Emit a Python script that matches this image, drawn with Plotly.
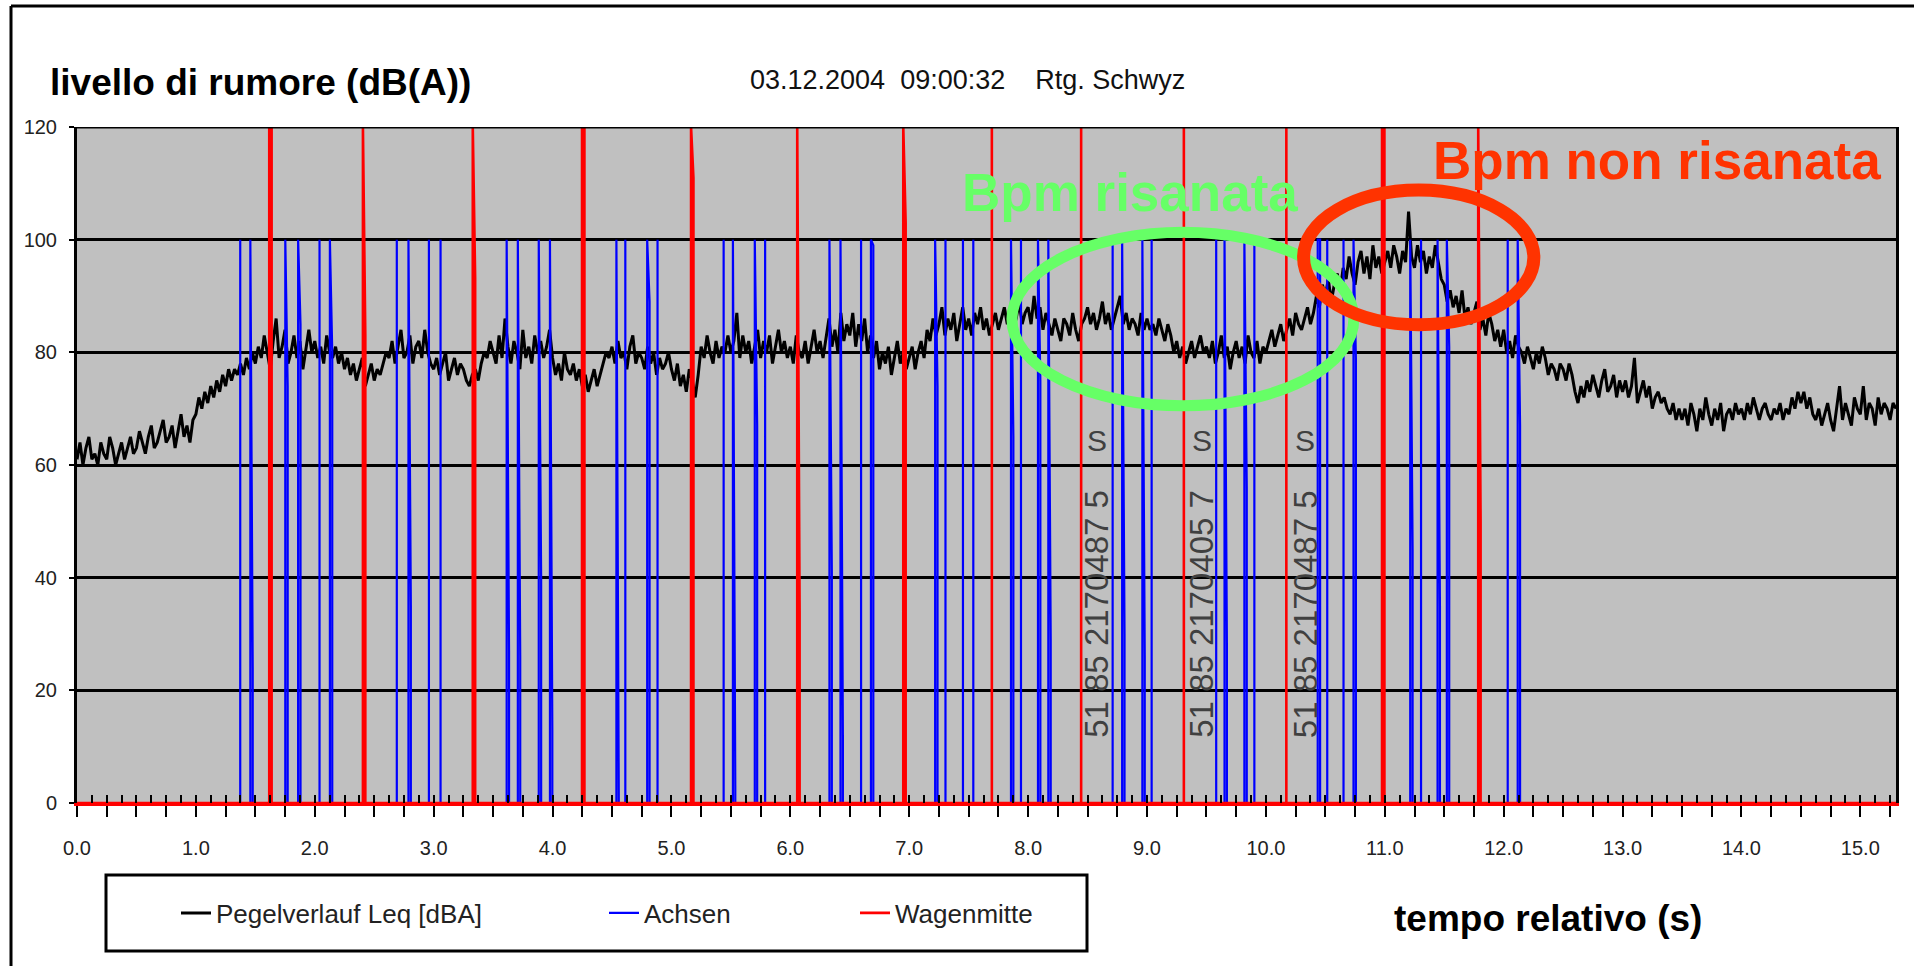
import numpy as np
import plotly.graph_objects as go

# ---------------- data ----------------
LEQ_DT = 0.025  # s between Leq samples
leq_db = [
    61,64,60,63,65,61,62,60,64,62,61,65,63,60,62,64,61,63,65,62,
    63,66,64,62,65,67,63,64,66,68,64,65,67,63,66,69,65,67,64,68,
    69,72,70,73,71,74,72,75,73,76,74,77,75,77,76,78,76,79,77,80,
    78,81,79,83,80,77,82,86,79,81,84,78,80,83,79,82,77,81,84,80,
    82,79,81,78,83,80,79,81,78,80,77,79,76,78,75,77,79,74,76,78,
    75,77,76,78,80,79,82,78,81,84,79,80,83,78,81,82,79,84,80,78,
    77,79,76,78,80,75,77,79,76,78,77,75,74,76,77,75,78,80,79,82,
    80,78,83,79,86,81,78,82,80,77,84,79,81,78,83,80,82,79,81,84,
    79,76,78,75,80,77,76,78,75,77,74,76,73,75,77,74,76,78,80,79,
    81,78,82,79,80,77,81,83,78,80,79,77,81,78,80,76,79,77,78,80,
    77,75,78,74,76,73,77,75,72,76,81,79,83,80,78,82,79,81,80,83,
    80,82,87,79,83,80,82,78,81,84,79,82,80,83,78,81,84,80,82,79,
    81,78,83,80,79,82,78,81,84,80,82,79,83,86,81,84,80,87,82,85,
    83,87,81,85,82,86,80,83,79,82,77,80,78,81,76,79,82,78,80,77,
    79,81,77,80,82,79,84,82,86,83,85,88,83,86,84,87,82,85,88,84,
    86,83,87,85,88,84,86,83,85,87,84,86,88,85,87,84,86,89,85,87,
    88,85,90,86,88,84,87,85,83,86,84,82,86,85,83,87,84,82,85,86,
    88,85,87,84,86,89,85,87,84,86,88,90,85,87,84,86,85,83,87,84,
    86,84,85,83,86,84,82,85,83,80,82,79,81,78,80,82,79,81,83,80,
    81,79,82,78,80,83,79,81,77,80,82,79,81,78,83,80,79,82,78,81,
    80,82,84,81,83,85,82,84,86,83,87,85,84,86,88,85,87,90,88,92,
    90,93,89,92,94,91,95,93,97,94,92,96,98,94,97,93,99,95,97,94,
    96,98,95,99,97,94,98,96,105,97,95,99,96,98,94,97,95,99,96,93,
    92,89,91,88,90,87,91,86,88,85,87,89,84,86,83,87,85,82,84,81,
    84,80,82,79,83,81,80,78,81,79,77,80,78,81,79,76,78,77,75,78,
    77,75,78,76,73,71,74,72,75,73,76,74,72,75,77,73,74,76,72,75,
    73,75,72,74,79,71,73,75,72,74,70,72,73,71,72,70,69,71,68,70,
    68,70,67,71,69,66,70,68,72,69,67,70,68,71,66,69,70,68,71,69,
    70,68,71,69,72,70,68,70,71,69,68,70,69,71,68,70,69,72,70,73,
    71,73,70,72,69,68,70,67,69,71,68,66,70,74,68,71,69,67,72,70,
    69,74,68,71,70,67,72,69,71,70,68,71,70,
]

# axles (Achsen): time of the pulse and level of the following sample
axle_times = [1.373, 1.458, 1.752, 1.860, 2.040, 2.127, 2.690, 2.788, 2.960, 3.058,
              3.614, 3.708, 3.884, 3.978, 4.537, 4.612, 4.796, 4.883, 5.439, 5.517,
              5.701, 5.788, 6.329, 6.422, 6.595, 6.678, 7.218, 7.305, 7.452, 7.539,
              7.856, 7.940, 8.083, 8.170, 8.711, 8.791, 8.961, 9.039, 9.582, 9.652,
              9.819, 9.903, 10.436, 10.516, 10.653, 10.737, 11.214, 11.305, 11.444, 11.522,
              12.034, 12.118]
axle_second = [0, 24, 74, 85, 0, 80, 0, 35, 0, 0,
               27, 26, 40, 13, 1, 0, 89, 0, 0, 3,
               67, 0, 41, 12, 0, 99, 74, 0, 0, 0,
               65, 0, 75, 29, 0, 30, 26, 0, 0, 28,
               56, 0, 100, 0, 0, 79, 45, 0, 35, 81,
               0, 67]
AXLE_PEAK = 100

# car centres (Wagenmitte)
car_times = [1.617, 2.405, 3.329, 4.248, 5.165, 6.058, 6.950, 7.695, 8.446, 9.310,
             10.172, 10.977, 11.786]
car_second = [120, 83, 93, 120, 111, 34, 103, 0, 0, 0, 0, 120, 50]
CAR_PEAK = 120

X_END = 15.30
x_tick_vals = list(np.round(np.arange(0, 15.26, 0.25), 3))
x_tick_text = [f"{v:.1f}" if abs(v - round(v)) < 1e-9 else "" for v in x_tick_vals]
x_minor_vals = list(np.round(np.arange(0, 15.30, 0.125), 4))
y_tick_vals = [0, 20, 40, 60, 80, 100, 120]

wagon_labels = ["51 85 2170487 5", "51 85 2170405 7", "51 85 2170487 5"]
wagon_label_x = [8.576, 9.459, 10.328]

# ---------------- helpers ----------------
SANS = "Liberation Sans, Arial, sans-serif"

# geometry of the plot area (pixels)
W, H = 1914, 966
ML, MR, MT, MB = 77, 18, 127, 163
PW, PH = W - ML - MR, H - MT - MB


def px(xp):
    return (xp - ML) / PW


def py(yp):
    return (H - MB - yp) / PH


def spike_series(times, peak, second, x_end, dt=0.02):
    xs, ys = [0.0], [0.0]
    for t, h in zip(times, second):
        if h > 0:
            xs += [t, t, t + dt, t + dt]
            ys += [0, peak, h, 0]
        else:
            xs += [t, t, t]
            ys += [0, peak, 0]
    xs.append(x_end)
    ys.append(0)
    return xs, ys


leq_t = np.arange(len(leq_db)) * LEQ_DT
ax_x, ax_y = spike_series(axle_times, AXLE_PEAK, axle_second, X_END)
car_x, car_y = spike_series(car_times, CAR_PEAK, car_second, X_END)

fig = go.Figure()
fig.add_trace(go.Scatter(x=leq_t, y=leq_db, mode="lines", name="Pegelverlauf Leq [dBA]",
                         line=dict(color="black", width=3), legend="legend"))
fig.add_trace(go.Scatter(x=ax_x, y=ax_y, mode="lines", name="Achsen",
                         line=dict(color="#0000FF", width=2.2), legend="legend2"))
fig.add_trace(go.Scatter(x=car_x, y=car_y, mode="lines", name="Wagenmitte",
                         line=dict(color="#FF0000", width=2.6), legend="legend3"))
# carrier for the inner tick marks
fig.add_trace(go.Scatter(x=[], y=[], xaxis="x2", showlegend=False, hoverinfo="skip"))

legend_common = dict(orientation="h", bgcolor="rgba(0,0,0,0)", borderwidth=0,
                     font=dict(family=SANS, size=26, color="#222"),
                     xanchor="left", yanchor="middle", y=py(913))
fig.update_layout(
    legend=dict(legend_common, x=px(176)),
    legend2=dict(legend_common, x=px(604)),
    legend3=dict(legend_common, x=px(855)),
)

fig.update_layout(
    width=W, height=H, autosize=False,
    margin=dict(l=ML, r=MR, t=MT, b=MB, pad=0, autoexpand=False),
    paper_bgcolor="white", plot_bgcolor="#C0C0C0",
    xaxis=dict(range=[0, X_END], tickmode="array", tickvals=x_tick_vals, ticktext=x_tick_text,
               ticks="outside", ticklen=11, tickwidth=2, tickcolor="black",
               showgrid=False, zeroline=False, showline=True, linecolor="#FF0000", linewidth=3,
               mirror=False, tickfont=dict(family=SANS, size=20, color="#222"),
               ticklabelstandoff=14, automargin=False),
    xaxis2=dict(range=[0, X_END], overlaying="x", anchor="y", side="bottom",
                tickmode="array", tickvals=x_minor_vals, ticks="inside", ticklen=8,
                tickwidth=2, tickcolor="black", showticklabels=False,
                showgrid=False, zeroline=False, showline=False, automargin=False),
    yaxis=dict(range=[0, 120], tickmode="array", tickvals=y_tick_vals,
               ticks="outside", ticklen=5, tickwidth=2, tickcolor="black",
               showgrid=True, gridcolor="black", gridwidth=3, zeroline=False,
               showline=True, linecolor="black", linewidth=3, mirror=True,
               tickfont=dict(family=SANS, size=20, color="#222"), ticklabelstandoff=8,
               automargin=False),
    showlegend=True,
)

shapes = [
    # top border of the plot area
    dict(type="line", xref="paper", yref="y", x0=0, x1=1, y0=120, y1=120,
         line=dict(color="black", width=3), layer="above"),
    # ellipses
    dict(type="circle", xref="x", yref="y", x0=7.864, x1=10.740, y0=70.5, y1=101.3,
         line=dict(color="#66FF66", width=11), layer="above"),
    dict(type="circle", xref="x", yref="y", x0=10.317, x1=12.254, y0=84.9, y1=108.8,
         line=dict(color="#FF3300", width=13), layer="above"),
    # legend box
    dict(type="rect", xref="paper", yref="paper", x0=px(106), x1=px(1087), y0=py(951), y1=py(875),
         line=dict(color="black", width=3), fillcolor="rgba(0,0,0,0)"),
    # outer frame (left and top)
    dict(type="line", xref="paper", yref="paper", x0=px(11), x1=px(11), y0=py(6), y1=py(966),
         line=dict(color="black", width=3)),
    dict(type="line", xref="paper", yref="paper", x0=px(11), x1=px(1914), y0=py(6), y1=py(6),
         line=dict(color="black", width=3)),
]
fig.update_layout(shapes=shapes)

annotations = [
    dict(text="livello di rumore (dB(A))", xref="paper", yref="paper", x=px(48), y=py(82),
         xanchor="left", yanchor="middle", showarrow=False,
         font=dict(family=SANS, size=37, color="black", weight="bold")),
    dict(text="03.12.2004\u00a0\u00a009:00:32\u00a0\u00a0\u00a0\u00a0Rtg. Schwyz", xref="paper", yref="paper",
         x=px(748), y=py(80), xanchor="left", yanchor="middle", showarrow=False,
         font=dict(family=SANS, size=27, color="#111")),
    dict(text="tempo relativo (s)", xref="paper", yref="paper", x=px(1548), y=py(918),
         xanchor="center", yanchor="middle", showarrow=False,
         font=dict(family=SANS, size=37, color="black", weight="bold")),
    dict(text="Bpm risanata", xref="x", yref="y", x=8.858, y=108.3,
         xanchor="center", yanchor="middle", showarrow=False,
         font=dict(family=SANS, size=53, color="#66FF66", weight="bold")),
    dict(text="Bpm non risanata", xref="x", yref="y", x=13.293, y=114.1,
         xanchor="center", yanchor="middle", showarrow=False,
         font=dict(family=SANS, size=53, color="#FF3300", weight="bold")),
]
for lbl, lx in zip(wagon_labels, wagon_label_x):
    annotations.append(dict(text=lbl, xref="x", yref="y", x=lx, y=33.5, textangle=-90,
                            xanchor="center", yanchor="middle", showarrow=False,
                            font=dict(family=SANS, size=33, color="#404040")))
    annotations.append(dict(text="S", xref="x", yref="y", x=lx, y=64.3,
                            xanchor="center", yanchor="middle", showarrow=False,
                            font=dict(family=SANS, size=30, color="#404040")))
fig.update_layout(annotations=annotations)

fig.write_html("out.html", config={"displayModeBar": False},
               post_script="document.body.style.margin='0px';document.body.style.overflow='hidden';")
